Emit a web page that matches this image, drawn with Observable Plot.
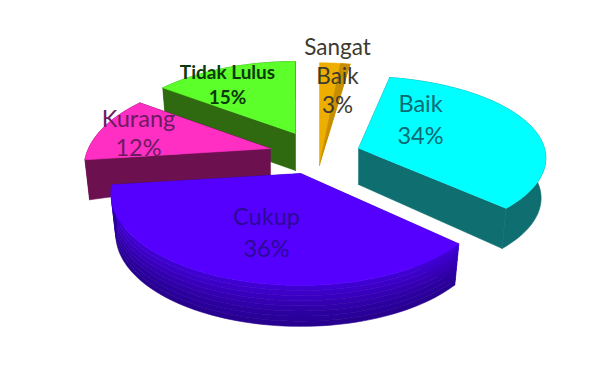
<!DOCTYPE html>
<html>
<head>
<meta charset="utf-8">
<script src="https://cdn.jsdelivr.net/npm/d3@7"></script>
<script src="https://cdn.jsdelivr.net/npm/@observablehq/plot@0.6"></script>
<style>
  html, body { margin: 0; padding: 0; background: #fff; }
  svg { display: block; }
</style>
</head>
<body>
<div id="chart"></div>
<script>
// Grade distribution, clockwise from twelve o'clock.
const categories = ["Sangat Baik", "Baik", "Cukup", "Kurang", "Tidak Lulus"];
const percents = [3, 34, 36, 12, 15];
const labelLines = [["Sangat", "Baik"], ["Baik"], ["Cukup"], ["Kurang"], ["Tidak Lulus"]];

const topColors = ["#eeae00", "#00ffff", "#5500ff", "#ff2fc4", "#5cff2a"];
const sideColors = ["#c68e00", "#0f6e70", "#3c00cc", "#6d1050", "#2f6a10"];
const rimBands = [null, null, ["#3f00d2", "#3c00c8", "#3800be", "#3400b2", "#3000a8", "#2c009e", "#29009a", "#280090"], null, null];
const labelColors = ["#3d3a30", "#0b6a72", "#2c0a96", "#6e1a62", "#0d3a0a"];

// Pie geometry for each slice: pulled-out apex, radii, perspective, wall height.
const centre = [305, 150];
const pull = [[14, 15], [53, -2], [-5, 23], [-35, -2], [-10, -17]];
const radiusX = [200, 186, 185, 182, 185];
const radiusY = [125, 80.6, 87.6, 87.6, 87.6];
const tilt = [0.217, 0.117, 0.217, 0.217, 0.217];
const wallApex = [0, 36, 40, 27, 37];
const wallRim = [0, 40, 41, 40, 37];
const wallTaper = 0.025;
const labelOffset = [[18, -91], [62, -31], [-34, 57], [-132, -16], [-68, -50]];
const labelSize = [22.5, 23.5, 23.5, 23.5, 19];
const labelLead = [1.29, 1.36, 1.36, 1.23, 1.32];
const labelWeight = ["normal", "normal", "normal", "normal", "bold"];
const paintOrder = [4, 0, 3, 1, 2];

const total = d3.sum(percents);
let running = 0;
const slices = percents.map((p, i) => {
  const start = (running / total) * 2 * Math.PI;
  running += p;
  const end = (running / total) * 2 * Math.PI;
  return {i, start, end, apex: [centre[0] + pull[i][0], centre[1] + pull[i][1]]};
});

// Projects a polar position on the tilted disc into chart coordinates;
// lower wall edges draw in slightly towards the apex.
function project(s, angle, r, drop = 0) {
  const u = r * Math.sin(angle);
  const v = -r * Math.cos(angle);
  const k = 1 / (1 - tilt[s.i] * v);
  const taper = 1 - wallTaper * drop / 40;
  return {
    x: s.apex[0] + radiusX[s.i] * u * k * taper,
    y: s.apex[1] + radiusY[s.i] * v * k + drop
  };
}
const arcOf = (s, from, to, drop = 0) => {
  const n = Math.max(2, Math.ceil(Math.abs(to - from) / 0.03));
  return d3.range(n + 1).map(j => project(s, from + (to - from) * j / n, 1, drop));
};
const polygon = (points, color) =>
  Plot.line(points, {x: "x", y: "y", fill: color, stroke: color, strokeWidth: 0.6});

function wallMarks(s) {
  const a = wallApex[s.i], b = wallRim[s.i];
  if (!b) return [];
  const apexTop = project(s, 0, 0), apexLow = project(s, 0, 0, a);
  const side = sideColors[s.i];
  const radial = angle => polygon([apexTop, project(s, angle, 1), project(s, angle, 1, b), apexLow], side);
  const bands = rimBands[s.i] || [side];
  const rim = bands.map((color, j) => polygon([
    ...arcOf(s, s.start, s.end, b * j / bands.length),
    ...arcOf(s, s.end, s.start, b * (j + 1) / bands.length)
  ], color));
  return [radial(s.start), radial(s.end), ...rim];
}

function topMarks(s) {
  const face = [project(s, 0, 0), ...arcOf(s, s.start, s.end)];
  const marks = [polygon(face, topColors[s.i])];
  // The sliver is so thin that only its inner cut face shows, on the right.
  if (!wallRim[s.i]) {
    const from = s.start + (s.end - s.start) * 0.68;
    marks.push(polygon([project(s, 0, 0), ...arcOf(s, from, s.end)], sideColors[s.i]));
  }
  return marks;
}

function labelMark(s) {
  const text = [...labelLines[s.i], `${percents[s.i]}%`].join("\n");
  return Plot.text([text], {
    x: () => s.apex[0] + labelOffset[s.i][0],
    y: () => s.apex[1] + labelOffset[s.i][1],
    text: d => d,
    fontFamily: "Lato, 'Open Sans', sans-serif",
    fontSize: labelSize[s.i],
    fontWeight: labelWeight[s.i],
    lineHeight: labelLead[s.i],
    lineAnchor: "middle",
    textAnchor: "middle",
    fill: labelColors[s.i]
  });
}

const ordered = paintOrder.map(i => slices[i]);
const chart = Plot.plot({
  width: 612,
  height: 377,
  margin: 0,
  x: {domain: [0, 612], range: [0, 612], axis: null},
  y: {domain: [0, 377], range: [0, 377], axis: null},
  style: {background: "#fff"},
  marks: [
    ...ordered.flatMap(s => [...wallMarks(s), ...topMarks(s)]),
    ...slices.map(labelMark)
  ]
});
document.getElementById("chart").append(chart);
</script>
</body>
</html>
